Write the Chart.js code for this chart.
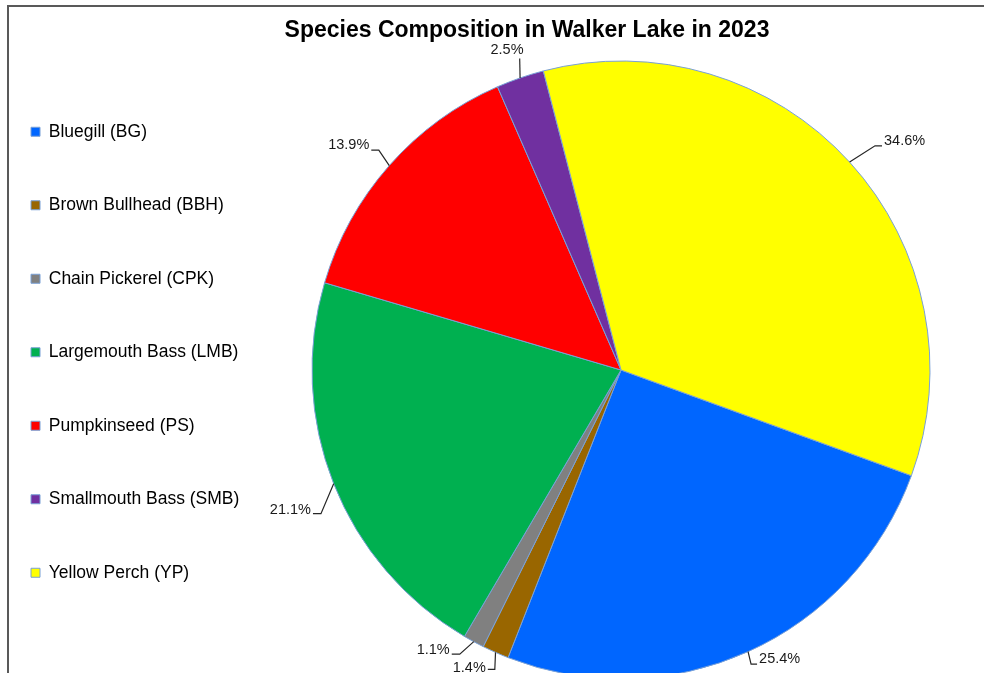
<!DOCTYPE html>
<html>
<head>
<meta charset="utf-8">
<script src="https://cdn.jsdelivr.net/npm/chart.js@4.4.0/dist/chart.umd.min.js"></script>
<style>
html,body{margin:0;padding:0;background:#fff;overflow:hidden;width:984px;height:673px;}
#wrap{position:relative;width:984px;height:673px;overflow:hidden;background:#fff;}
#frame{position:absolute;left:7px;top:5px;width:1100px;height:800px;border-top:2px solid #595959;border-left:2px solid #595959;}
#c{position:absolute;left:-25px;top:0;}
</style>
</head>
<body>
<div id="wrap">
  <div id="frame"></div>
  <canvas id="c" width="1104" height="700"></canvas>
</div>
<script>
// ---- data ----
const categories = [
  'Bluegill (BG)',
  'Brown Bullhead (BBH)',
  'Chain Pickerel (CPK)',
  'Largemouth Bass (LMB)',
  'Pumpkinseed (PS)',
  'Smallmouth Bass (SMB)',
  'Yellow Perch (YP)'
];
const percentages = [25.4, 1.4, 1.1, 21.1, 13.9, 2.5, 34.6];
const chartTitle = 'Species Composition in Walker Lake in 2023';

// ---- style ----
const sliceColors = ['#0066FF', '#996600', '#808080', '#00B050', '#FF0000', '#7030A0', '#FFFF00'];
const sliceBorder = '#79a0d6';
// leader placement: elbow offset from slice edge, tick direction/length, text vertical shift
const labelPlacement = [
  {dx: 3,    dy: 12.5,  side: 1,  tick: 6,   ty: -5},
  {dx: -0.7, dy: 17,    side: -1, tick: 7,   ty: -1},
  {dx: -14,  dy: 12.5,  side: -1, tick: 8,   ty: -4},
  {dx: -12.7,dy: 30,    side: -1, tick: 8,   ty: -3.5},
  {dx: -10.5,dy: -15.4, side: -1, tick: 7.5, ty: -5},
  {dx: -0.4, dy: -19.5, side: 0,  tick: 0,   ty: -1, shift: -12.7},
  {dx: 25.4, dy: -16.3, side: 1,  tick: 7,   ty: -4.7}
];

const FONT = "'Liberation Sans', Arial, Helvetica, sans-serif";
Chart.defaults.font.family = FONT;

const LEGEND_FONT = 17.5;
const LEGEND_PAD = 56;
const LEGEND_BOX = 9;

// width the legend box will take, so the plot can be balanced against the title
const mctx = document.createElement('canvas').getContext('2d');
mctx.font = LEGEND_FONT + 'px ' + FONT;
const maxText = Math.max(...categories.map(t => mctx.measureText(t).width));
const legendWidth = LEGEND_PAD + LEGEND_BOX + LEGEND_FONT / 2 + maxText + 10;
const rightSpacer = Math.max(legendWidth - 188, 0);

const leaderLabels = {
  id: 'leaderLabels',
  afterDatasetsDraw(chart) {
    const ctx = chart.ctx;
    const meta = chart.getDatasetMeta(0);
    ctx.save();
    ctx.strokeStyle = '#262626';
    ctx.lineWidth = 1.2;
    ctx.fillStyle = '#1a1a1a';
    ctx.font = '14.5px ' + FONT;
    meta.data.forEach((arc, i) => {
      const p = arc.getProps(['x', 'y', 'startAngle', 'endAngle', 'outerRadius'], true);
      const mid = (p.startAngle + p.endAngle) / 2;
      const ex = p.x + Math.cos(mid) * p.outerRadius;
      const ey = p.y + Math.sin(mid) * p.outerRadius;
      const pl = labelPlacement[i];
      const bx = ex + pl.dx, by = ey + pl.dy;
      const tx = bx + pl.side * pl.tick;
      ctx.beginPath();
      ctx.moveTo(ex, ey);
      ctx.lineTo(bx, by);
      if (pl.side !== 0) ctx.lineTo(tx, by);
      ctx.stroke();
      const text = percentages[i].toFixed(1) + '%';
      if (pl.side === 0) {
        ctx.textAlign = 'center';
        ctx.textBaseline = 'bottom';
        ctx.fillText(text, bx + (pl.shift || 0), by + pl.ty);
      } else {
        ctx.textAlign = pl.side > 0 ? 'left' : 'right';
        ctx.textBaseline = 'middle';
        ctx.fillText(text, tx + pl.side * 2, by + pl.ty);
      }
    });
    ctx.restore();
  }
};

new Chart(document.getElementById('c'), {
  type: 'pie',
  data: {
    labels: categories,
    datasets: [{
      data: percentages,
      backgroundColor: sliceColors,
      borderColor: sliceBorder,
      borderWidth: 1
    }]
  },
  options: {
    responsive: false,
    animation: false,
    events: [],
    devicePixelRatio: 1,
    rotation: 110,
    radius: 309,
    layout: {padding: {left: 0, right: 0, top: 0, bottom: 27}},
    plugins: {
      title: {
        display: true,
        text: chartTitle,
        color: '#000',
        font: {size: 23, weight: 'bold', family: FONT, lineHeight: 1.2},
        padding: {top: 17, bottom: 22.4}
      },
      subtitle: {
        display: true,
        position: 'right',
        text: '',
        padding: 0,
        font: {size: 1, lineHeight: rightSpacer.toFixed(2) + 'px'}
      },
      legend: {
        display: true,
        position: 'left',
        align: 'start',
        fullSize: false,
        labels: {
          boxWidth: LEGEND_BOX,
          boxHeight: LEGEND_BOX,
          padding: LEGEND_PAD,
          color: '#000',
          font: {size: LEGEND_FONT, family: FONT}
        }
      },
      tooltip: {enabled: false}
    }
  },
  plugins: [leaderLabels]
});
</script>
</body>
</html>
